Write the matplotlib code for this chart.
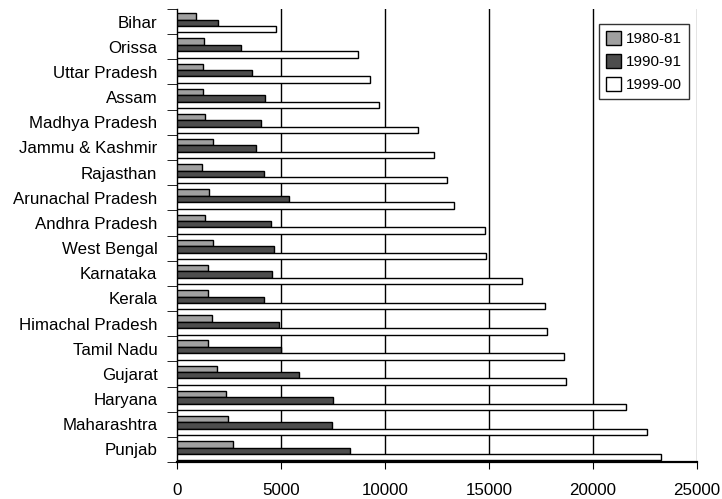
import numpy as np
import matplotlib
matplotlib.use('Agg')
import matplotlib.pyplot as plt

plt.rcParams['font.family'] = ['Liberation Sans', 'DejaVu Sans']

states = ['Bihar', 'Orissa', 'Uttar Pradesh', 'Assam', 'Madhya Pradesh',
          'Jammu & Kashmir', 'Rajasthan', 'Arunachal Pradesh', 'Andhra Pradesh',
          'West Bengal', 'Karnataka', 'Kerala', 'Himachal Pradesh', 'Tamil Nadu',
          'Gujarat', 'Haryana', 'Maharashtra', 'Punjab']
v1980 = [900, 1310, 1270, 1270, 1350, 1760, 1220, 1550, 1360, 1750,
         1510, 1510, 1700, 1480, 1940, 2380, 2440, 2680]
v1990 = [2000, 3060, 3590, 4260, 4040, 3810, 4180, 5380, 4520, 4660,
         4580, 4200, 4900, 4990, 5890, 7500, 7440, 8320]
v1999 = [4790, 8720, 9310, 9700, 11600, 12360, 13010, 13330, 14840, 14860,
         16600, 17700, 17810, 18620, 18710, 21580, 22630, 23280]
series = ['1980-81', '1990-91', '1999-00']
colors = ['#a0a0a0', '#4d4d4d', '#ffffff']

fig = plt.figure(figsize=(7.22, 4.99), dpi=100)
ax = fig.add_axes([0.245, 0.074, 0.72, 0.908])

y = np.arange(len(states))
h = 0.255
for k, (vals, lab, c) in enumerate(zip([v1980, v1990, v1999], series, colors)):
    ax.barh(y + (k - 1) * h + 0.05, vals, height=h, color=c, edgecolor='black',
            linewidth=1.0, label=lab, zorder=3)

ax.set_xlim(0, 25000)
ax.set_ylim(len(states) - 0.5, -0.5)
ax.set_xticks(np.arange(0, 25001, 5000))
ax.set_yticks(y)
ax.set_yticklabels(states)
ax.set_yticks(np.arange(-0.5, len(states)), minor=True)
ax.tick_params(axis='y', which='major', length=0, labelsize=12.2, pad=14)
ax.tick_params(axis='y', which='minor', length=7, direction='out')
ax.tick_params(axis='x', labelsize=12.2, length=5, direction='out', pad=10)

for gx in range(5000, 25001, 5000):
    ax.axvline(gx, color='black' if gx < 25000 else '#777777', linewidth=1.0, zorder=1)

ax.spines['top'].set_visible(False)
ax.spines['right'].set_visible(False)
ax.spines['bottom'].set_linewidth(1.6)
ax.spines['left'].set_linewidth(1.0)

leg = ax.legend(loc='upper right', bbox_to_anchor=(0.985, 0.967), borderaxespad=0,
                fontsize=11, frameon=True, fancybox=False, edgecolor='black',
                handlelength=1.0, handleheight=1.05, handletextpad=0.3,
                borderpad=0.45, labelspacing=0.5)
leg.get_frame().set_linewidth(1.0)

fig.savefig('out.png', dpi=100)
